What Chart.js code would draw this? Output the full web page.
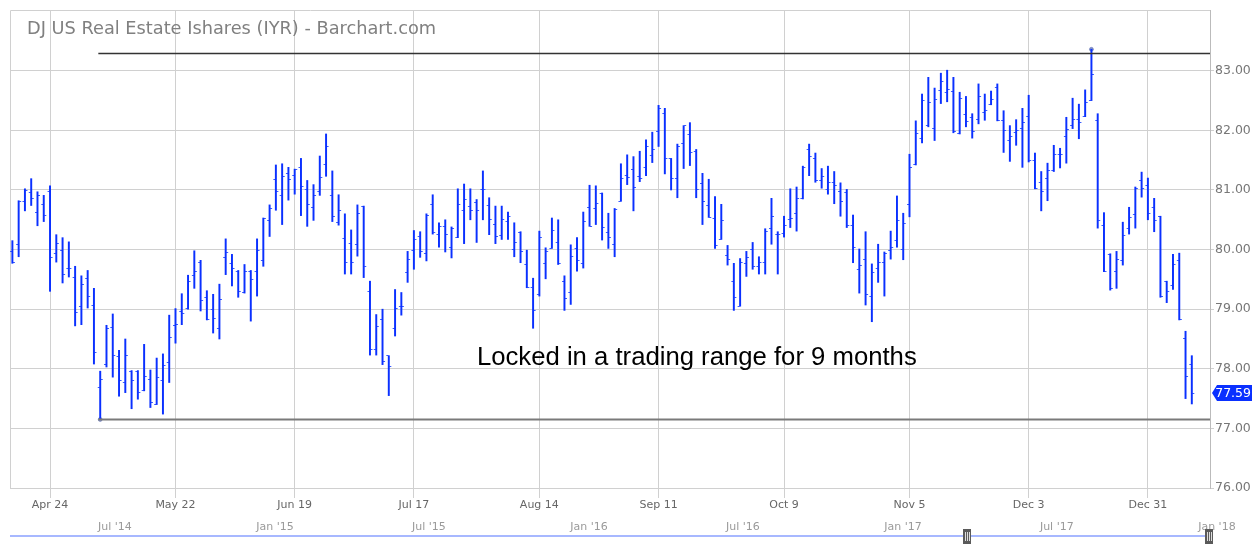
<!DOCTYPE html>
<html>
<head>
<meta charset="utf-8">
<script src="https://cdn.jsdelivr.net/npm/chart.js@4.4.0/dist/chart.umd.min.js"></script>
<style>
  html, body { margin: 0; padding: 0; background: #fff; }
</style>
</head>
<body>
<canvas id="chart" width="1254" height="550"></canvas>
<script>
// daily OHLC, Apr 13 2017 .. Jan 11 2018 (index = trading day)
const opens = [
  79.97, 80.09, 80.80, 80.95, 80.63, 80.75, 80.97, 79.93, 79.99, 79.68,
  79.53, 79.04, 79.51, 79.06, 77.69, 78.08, 78.70, 78.20, 77.77, 77.96,
  77.96, 77.63, 77.82, 77.40, 77.81, 78.10, 78.72, 78.96, 79.02, 79.56,
  79.78, 79.19, 78.99, 78.67, 79.87, 79.76, 79.64, 79.28, 79.63, 79.64,
  79.81, 80.48, 81.18, 80.91, 81.28, 81.25, 81.38, 81.01, 80.71, 80.98,
  81.43, 80.90, 80.45, 80.18, 80.11, 80.08, 80.73, 79.29, 78.32, 78.82,
  78.22, 78.67, 79.05, 79.61, 79.99, 80.22, 79.94, 80.76, 80.26, 80.38,
  80.03, 80.21, 80.66, 80.72, 80.79, 81.01, 80.74, 80.42, 80.24, 80.47,
  80.01, 80.29, 79.75, 79.36, 79.25, 79.77, 80.02, 80.12, 79.47, 79.28,
  80.02, 79.77, 80.71, 80.69, 80.94, 80.29, 80.09, 80.81, 81.25, 81.35,
  81.23, 81.38, 81.58, 81.98, 82.28, 81.53, 81.20, 81.78, 81.93, 81.65,
  81.11, 80.74, 80.53, 80.17, 79.90, 79.47, 79.05, 79.77, 80.01, 79.72,
  79.78, 80.35, 80.25, 80.27, 80.50, 80.61, 80.85, 81.68, 81.53, 81.16,
  81.00, 81.13, 80.98, 80.96, 80.40, 79.66, 79.84, 79.21, 79.68, 79.78,
  79.98, 80.16, 80.01, 80.75, 81.42, 81.86, 82.08, 82.04, 82.67, 82.63,
  82.65, 81.94, 82.26, 82.21, 82.18, 82.30, 82.43, 82.72, 82.16, 81.83,
  81.96, 82.04, 82.23, 81.49, 81.13, 81.19, 81.32, 81.59, 81.90, 82.08,
  82.18, 82.23, 82.50, 82.17, 80.41, 79.91, 79.63, 79.81, 80.36, 80.59,
  81.16, 81.07, 80.71, 80.56, 79.47, 79.39, 79.81, 78.51, 78.07
];
const highs = [
  80.15, 80.82, 81.02, 81.19, 80.97, 80.91, 81.07, 80.25, 80.20, 80.13,
  79.72, 79.56, 79.65, 79.35, 77.96, 78.73, 78.92, 78.31, 78.50, 77.97,
  77.97, 78.41, 77.98, 78.18, 78.25, 78.90, 79.01, 79.26, 79.57, 79.98,
  79.82, 79.31, 79.25, 79.42, 80.18, 79.92, 79.65, 79.75, 79.65, 80.18,
  80.53, 80.75, 81.42, 81.44, 81.38, 81.35, 81.53, 81.16, 81.09, 81.57,
  81.94, 81.32, 80.92, 80.60, 80.33, 80.75, 80.73, 79.47, 78.91, 79.00,
  78.22, 79.33, 79.28, 79.97, 80.32, 80.30, 80.60, 80.92, 80.45, 80.50,
  80.38, 81.02, 81.10, 81.02, 80.84, 81.32, 80.87, 80.73, 80.73, 80.63,
  80.45, 80.30, 79.99, 79.52, 80.31, 80.03, 80.53, 80.50, 79.56, 80.08,
  80.20, 80.63, 81.08, 81.07, 80.95, 80.61, 80.69, 81.44, 81.59, 81.56,
  81.65, 81.84, 81.97, 82.42, 82.37, 81.53, 81.77, 82.08, 82.13, 81.68,
  81.28, 81.18, 80.89, 80.76, 80.07, 79.77, 79.85, 79.97, 80.12, 79.88,
  80.35, 80.86, 80.30, 80.56, 81.02, 81.05, 81.40, 81.77, 81.62, 81.36,
  81.40, 81.31, 81.12, 81.01, 80.58, 80.01, 80.30, 79.76, 80.09, 79.96,
  80.31, 80.90, 80.61, 81.60, 82.16, 82.61, 82.89, 82.71, 82.96, 83.01,
  82.89, 82.64, 82.57, 82.28, 82.78, 82.61, 82.66, 82.78, 82.33, 82.08,
  82.18, 82.37, 82.59, 81.62, 81.31, 81.45, 81.75, 81.70, 82.22, 82.54,
  82.44, 82.68, 83.36, 82.28, 80.62, 79.93, 79.97, 80.46, 80.71, 81.05,
  81.30, 81.20, 80.86, 80.56, 79.47, 79.92, 79.94, 78.63, 78.22
];
const lows = [
  79.77, 79.88, 80.65, 80.74, 80.40, 80.47, 79.30, 79.79, 79.44, 79.54,
  78.72, 78.74, 79.02, 78.08, 77.15, 78.03, 77.86, 77.54, 77.60, 77.33,
  77.49, 77.63, 77.35, 77.40, 77.24, 77.77, 78.43, 78.74, 79.00, 79.35,
  78.97, 78.82, 78.60, 78.50, 79.58, 79.39, 79.20, 79.27, 78.80, 79.22,
  79.72, 80.22, 80.66, 80.42, 80.83, 80.93, 80.57, 80.39, 80.49, 80.91,
  81.23, 80.47, 80.41, 79.59, 79.59, 79.89, 79.53, 78.23, 78.23, 78.07,
  77.55, 78.55, 78.90, 79.45, 79.67, 79.87, 79.81, 80.26, 80.04, 79.96,
  79.86, 80.20, 80.10, 80.50, 80.12, 80.50, 80.25, 80.10, 80.17, 80.17,
  79.88, 79.78, 79.36, 78.68, 79.22, 79.51, 80.02, 79.75, 78.98, 79.08,
  79.64, 79.69, 80.39, 80.42, 80.16, 80.02, 79.88, 80.81, 81.09, 80.65,
  81.14, 81.24, 81.46, 81.73, 81.27, 81.00, 80.87, 81.36, 81.41, 80.87,
  80.42, 80.54, 80.02, 80.17, 79.74, 78.98, 79.05, 79.55, 79.67, 79.59,
  79.59, 80.09, 79.59, 80.21, 80.37, 80.31, 80.85, 81.24, 81.13, 81.03,
  80.93, 80.77, 80.56, 80.37, 79.78, 79.27, 79.07, 78.79, 79.45, 79.22,
  79.84, 80.04, 79.83, 80.55, 81.42, 81.79, 82.06, 81.83, 82.45, 82.48,
  81.96, 81.94, 82.06, 81.87, 82.11, 82.17, 82.43, 82.16, 81.63, 81.48,
  81.75, 81.38, 81.47, 81.02, 80.65, 80.82, 81.31, 81.37, 81.45, 82.03,
  81.86, 82.23, 82.50, 80.36, 79.63, 79.32, 79.35, 79.74, 80.26, 80.36,
  80.88, 80.50, 80.30, 79.20, 79.11, 79.33, 78.82, 77.50, 77.41
];
const closes = [
  79.79, 80.80, 80.99, 80.85, 80.90, 80.58, 79.87, 80.11, 79.58, 79.68,
  78.94, 79.41, 79.21, 78.27, 77.82, 78.67, 78.22, 77.80, 78.22, 77.80,
  77.60, 77.87, 77.43, 77.85, 78.06, 78.52, 78.75, 78.93, 79.46, 79.63,
  79.14, 78.82, 78.84, 79.16, 79.95, 79.69, 79.29, 79.63, 79.49, 79.99,
  80.53, 80.69, 80.97, 81.23, 81.18, 81.34, 81.06, 80.75, 80.90, 81.21,
  81.73, 80.55, 80.65, 79.78, 79.78, 80.61, 79.71, 78.32, 78.71, 78.12,
  78.04, 79.01, 79.04, 79.83, 80.17, 79.96, 80.58, 80.28, 80.38, 80.25,
  80.35, 80.76, 80.84, 80.66, 80.66, 81.01, 80.51, 80.22, 80.50, 80.56,
  80.12, 79.97, 79.36, 78.98, 80.20, 79.97, 80.32, 79.77, 79.18, 79.89,
  79.82, 80.47, 80.39, 80.78, 80.37, 80.21, 80.68, 81.20, 81.21, 81.04,
  81.19, 81.73, 81.68, 82.37, 81.53, 81.20, 81.73, 82.08, 81.63, 81.01,
  80.81, 80.54, 80.07, 80.49, 79.84, 79.20, 79.79, 79.87, 79.72, 79.78,
  80.30, 80.55, 80.25, 80.41, 80.53, 80.85, 81.38, 81.57, 81.16, 81.23,
  81.13, 81.08, 80.81, 80.40, 80.04, 79.73, 79.24, 79.61, 79.78, 79.93,
  80.04, 80.48, 80.43, 81.37, 81.94, 82.50, 82.47, 82.52, 82.82, 82.69,
  81.98, 82.53, 82.15, 81.98, 82.57, 82.33, 82.52, 82.16, 81.99, 81.89,
  81.99, 82.13, 81.50, 81.02, 80.98, 81.32, 81.59, 81.59, 82.01, 82.18,
  82.13, 82.47, 82.94, 80.49, 79.63, 79.34, 79.84, 80.23, 80.54, 81.02,
  81.02, 80.60, 80.49, 79.21, 79.30, 79.75, 78.82, 77.87, 77.59
];

// x axis (bar index) ticks
const xTickPos = [6, 26, 45, 64, 84, 103, 123, 143, 162, 181];
const xTickLabels = ["Apr 24", "May 22", "Jun 19", "Jul 17", "Aug 14", "Sep 11", "Oct 9", "Nov 5", "Dec 3", "Dec 31"];
const yTickValues = [76, 77, 78, 79, 80, 81, 82, 83];

// drawn trading range lines + anchor dots
const rangeX = [13.7, 190.9];
const supportLevel = 77.15;
const resistanceLevel = 83.29;
const anchorX = [14, 172];
const anchorY = [77.15, 83.36];

const titleText = "DJ US Real Estate Ishares (IYR) - Barchart.com";
const noteText = "Locked in a trading range for 9 months";
const notePos = { x: 109.1, y: 78.18 };

// navigator strip (years)
const navLabels = ["Jul '14", "Jan '15", "Jul '15", "Jan '16", "Jul '16", "Jan '17", "Jul '17", "Jan '18"];
const navDates = [2014.49, 2015.0, 2015.49, 2016.0, 2016.49, 2017.0, 2017.49, 2018.0];
const navRange = [2014.156, 2017.978];
const navHandles = [2017.204, 2017.975];

const BLUE = "#0a30ff";

function tickImage(left) {
  const c = document.createElement("canvas");
  c.width = 7;
  c.height = 1;
  const g = c.getContext("2d");
  g.fillStyle = "#3a5cff";
  g.fillRect(left ? 1 : 4, 0, 2, 1);
  return c;
}

const hlData = highs.map((h, i) => ({ x: i, y: [lows[i], h] }));
const openData = opens.map((v, i) => ({ x: i, y: v }));
const closeData = closes.map((v, i) => ({ x: i, y: v }));

const decor = {
  id: "decor",
  beforeDatasetsDraw(chart) {
    const { ctx, chartArea: a } = chart;
    ctx.save();
    ctx.strokeStyle = "#d0d0d0";
    ctx.lineWidth = 1;
    ctx.beginPath();
    ctx.moveTo(a.left + 0.5, a.bottom);
    ctx.lineTo(a.left + 0.5, a.top + 0.5);
    ctx.lineTo(a.right, a.top + 0.5);
    ctx.stroke();
    ctx.restore();
  },
  afterDraw(chart) {
    const { ctx, chartArea: a, scales } = chart;
    ctx.save();

    // title
    ctx.font = '17.75px "DejaVu Sans"';
    ctx.fillStyle = "#808080";
    ctx.textBaseline = "middle";
    ctx.textAlign = "left";
    ctx.fillText(titleText, 27, 29);

    // note
    ctx.font = '25.7px "Liberation Sans", Arial';
    ctx.fillStyle = "#000";
    ctx.textAlign = "center";
    ctx.fillText(noteText, scales.x.getPixelForValue(notePos.x), scales.y.getPixelForValue(notePos.y));

    // last price flag
    const last = closes[closes.length - 1];
    const py = Math.round(scales.y.getPixelForValue(last));
    ctx.fillStyle = "#0a30ff";
    ctx.beginPath();
    ctx.moveTo(a.right + 2, py);
    ctx.lineTo(a.right + 7, py - 8);
    ctx.lineTo(1252, py - 8);
    ctx.lineTo(1252, py + 8);
    ctx.lineTo(a.right + 7, py + 8);
    ctx.closePath();
    ctx.fill();
    ctx.fillStyle = "#fff";
    ctx.font = '12.5px "DejaVu Sans"';
    ctx.textAlign = "right";
    ctx.fillText(last.toFixed(2), 1251, py + 1);

    // navigator
    const nx = t => a.left + (t - navRange[0]) / (navRange[1] - navRange[0]) * (a.right - a.left);
    ctx.font = '11px "DejaVu Sans"';
    ctx.fillStyle = "#9a9a9a";
    ctx.textAlign = "center";
    navLabels.forEach((l, i) => ctx.fillText(l, nx(navDates[i]), 527));
    ctx.strokeStyle = "#8aa0ff";
    ctx.lineWidth = 1.5;
    ctx.beginPath();
    ctx.moveTo(a.left, 536);
    ctx.lineTo(a.right, 536);
    ctx.stroke();
    navHandles.forEach(t => {
      const hx = Math.round(nx(t));
      ctx.fillStyle = "#5a5a5a";
      ctx.fillRect(hx - 4, 529, 8, 15);
      ctx.fillStyle = "#ddd";
      ctx.fillRect(hx - 2, 532, 1, 9);
      ctx.fillRect(hx, 532, 1, 9);
      ctx.fillRect(hx + 2, 532, 1, 9);
    });
    ctx.restore();
  }
};

new Chart(document.getElementById("chart"), {
  type: "bar",
  data: {
    datasets: [
      {
        type: "line",
        data: rangeX.map(x => ({ x, y: resistanceLevel })),
        borderColor: "#333",
        borderWidth: 1.5,
        pointRadius: 0
      },
      {
        type: "line",
        data: rangeX.map(x => ({ x, y: supportLevel })),
        borderColor: "#7a7a7a",
        borderWidth: 2,
        pointRadius: 0
      },
      {
        type: "bar",
        data: hlData,
        backgroundColor: BLUE,
        barThickness: 1.3,
        borderWidth: 0
      },
      {
        type: "scatter",
        data: openData,
        pointStyle: tickImage(true),
        pointRadius: 3
      },
      {
        type: "scatter",
        data: closeData,
        pointStyle: tickImage(false),
        pointRadius: 3
      },
      {
        type: "scatter",
        data: anchorX.map((x, i) => ({ x, y: anchorY[i] })),
        pointStyle: "circle",
        pointRadius: 2,
        backgroundColor: "#7f8fc8",
        borderColor: "#6070b0",
        borderWidth: 0.5
      }
    ]
  },
  options: {
    responsive: false,
    animation: false,
    events: [],
    devicePixelRatio: 1,
    layout: { padding: { left: 10, top: 10, right: 0, bottom: 0 } },
    plugins: { legend: { display: false }, tooltip: { enabled: false } },
    scales: {
      x: {
        type: "linear",
        min: -0.38,
        max: 190.9,
        offset: false,
        afterBuildTicks: s => { s.ticks = xTickPos.map(v => ({ value: v })); },
        afterFit: s => { s.height = 62; },
        grid: { color: "#d0d0d0", tickLength: 10, offset: false },
        border: { display: false },
        ticks: {
          autoSkip: false,
          maxRotation: 0,
          padding: 1,
          color: "#666",
          font: { family: "DejaVu Sans", size: 11 },
          callback: v => xTickLabels[xTickPos.indexOf(v)]
        }
      },
      y: {
        position: "right",
        min: 76,
        max: 84.02,
        afterBuildTicks: s => { s.ticks = yTickValues.map(v => ({ value: v })); },
        afterFit: s => { s.width = 44; },
        grid: { color: "#d0d0d0", tickLength: 4 },
        border: { color: "#bbb" },
        ticks: {
          padding: 1,
          color: "#777",
          font: { family: "DejaVu Sans", size: 12.5 },
          callback: v => v.toFixed(2)
        }
      }
    }
  },
  plugins: [decor]
});
</script>
</body>
</html>
